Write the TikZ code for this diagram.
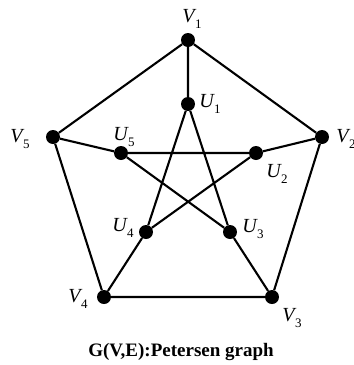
\documentclass[tikz,border=0pt]{standalone}
\usepackage{fontspec}
\setmainfont{Liberation Serif}
\newcommand{\glab}[2]{{\itshape #1}\kern0.5pt\raisebox{-0.28em}{\fontsize{13}{14}\selectfont #2}}
\begin{document}
\begin{tikzpicture}[x=1pt,y=-1pt,
  vtx/.style={circle,fill=black,inner sep=0pt,minimum size=14pt},
  lbl/.style={inner sep=0pt,font=\fontsize{20}{22}\selectfont},
  edge/.style={line width=2.1pt}]
\useasboundingbox (0,0) rectangle (354,365);
\node[vtx] (V1) at (188,40) {};
\node[vtx] (V2) at (322,137) {};
\node[vtx] (V3) at (272,297) {};
\node[vtx] (V4) at (104,297) {};
\node[vtx] (V5) at (53,137) {};
\node[vtx] (U1) at (188,104) {};
\node[vtx] (U2) at (256,153) {};
\node[vtx] (U3) at (230,232) {};
\node[vtx] (U4) at (146,232) {};
\node[vtx] (U5) at (121,153) {};
\draw[edge] (V1)--(V2)--(V3)--(V4)--(V5)--(V1);
\draw[edge] (V1)--(U1) (V2)--(U2) (V3)--(U3) (V4)--(U4) (V5)--(U5);
\draw[edge] (U1)--(U3) (U1)--(U4) (U2)--(U4) (U2)--(U5) (U3)--(U5);
\node[lbl] (lV1) at (192,19) {\glab{V}{1}};
\node[lbl] (lV2) at (346,139) {\glab{V}{2}};
\node[lbl] (lV3) at (292,318) {\glab{V}{3}};
\node[lbl] (lV4) at (78,299) {\glab{V}{4}};
\node[lbl] (lV5) at (20,139) {\glab{V}{5}};
\node[lbl] (lU1) at (210,104) {\glab{U}{1}};
\node[lbl] (lU2) at (277,174) {\glab{U}{2}};
\node[lbl] (lU3) at (253,229) {\glab{U}{3}};
\node[lbl] (lU4) at (123,228) {\glab{U}{4}};
\node[lbl] (lU5) at (124,137) {\glab{U}{5}};
\node[inner sep=0pt,font=\bfseries\fontsize{19}{21}\selectfont] (cap) at (181,352) {G(V,E):Petersen graph};
\end{tikzpicture}
\end{document}
